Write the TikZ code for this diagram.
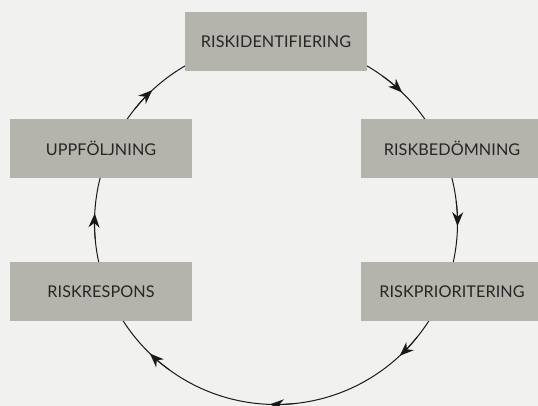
\documentclass[tikz,border=0pt]{standalone}
\usepackage{fontspec}
\setmainfont{Lato}[LetterSpace=0.5]
\usepackage{xcolor}
\usetikzlibrary{arrows.meta}
\definecolor{bggray}{HTML}{F1F1EF}
\definecolor{boxgray}{HTML}{B4B3AC}
\definecolor{txtgray}{HTML}{262626}
\newcommand{\ringr}{181.5}

\begin{document}
\begin{tikzpicture}[
  x=1pt, y=1pt,
  box/.style={fill=boxgray, minimum width=182pt, minimum height=59pt, inner sep=0pt,
              font=\fontsize{16.2}{20}\selectfont, text=txtgray},
  ring/.style={line width=1pt, draw=black!90},
  tip/.style={ring, -{Stealth[length=14pt, width=11pt, inset=4.5pt]}},
]
\useasboundingbox (0,0) rectangle (538,406);
\fill[bggray] (0,0) rectangle (538,406);

% cycle behind the boxes
\coordinate (c) at (276,183);
\draw[ring] (c) circle[radius=\ringr];
\foreach \a in {46,-1,-47,-92,-134,177,133} {
  \draw[tip] ([shift={(\a+8:\ringr)}]c) arc[start angle=\a+8, end angle=\a, radius=\ringr];
}

% steps
\node[box] (ident) at (276,364.7) {RISKIDENTIFIERING};
\node[box] (bedom) at (452,257.5) {RISKBEDÖMNING};
\node[box] (prio)  at (452,114.5) {RISKPRIORITERING};
\node[box] (resp)  at (101,114.5) {RISKRESPONS};
\node[box] (uppf)  at (101,257.5) {UPPFÖLJNING};
\end{tikzpicture}
\end{document}
